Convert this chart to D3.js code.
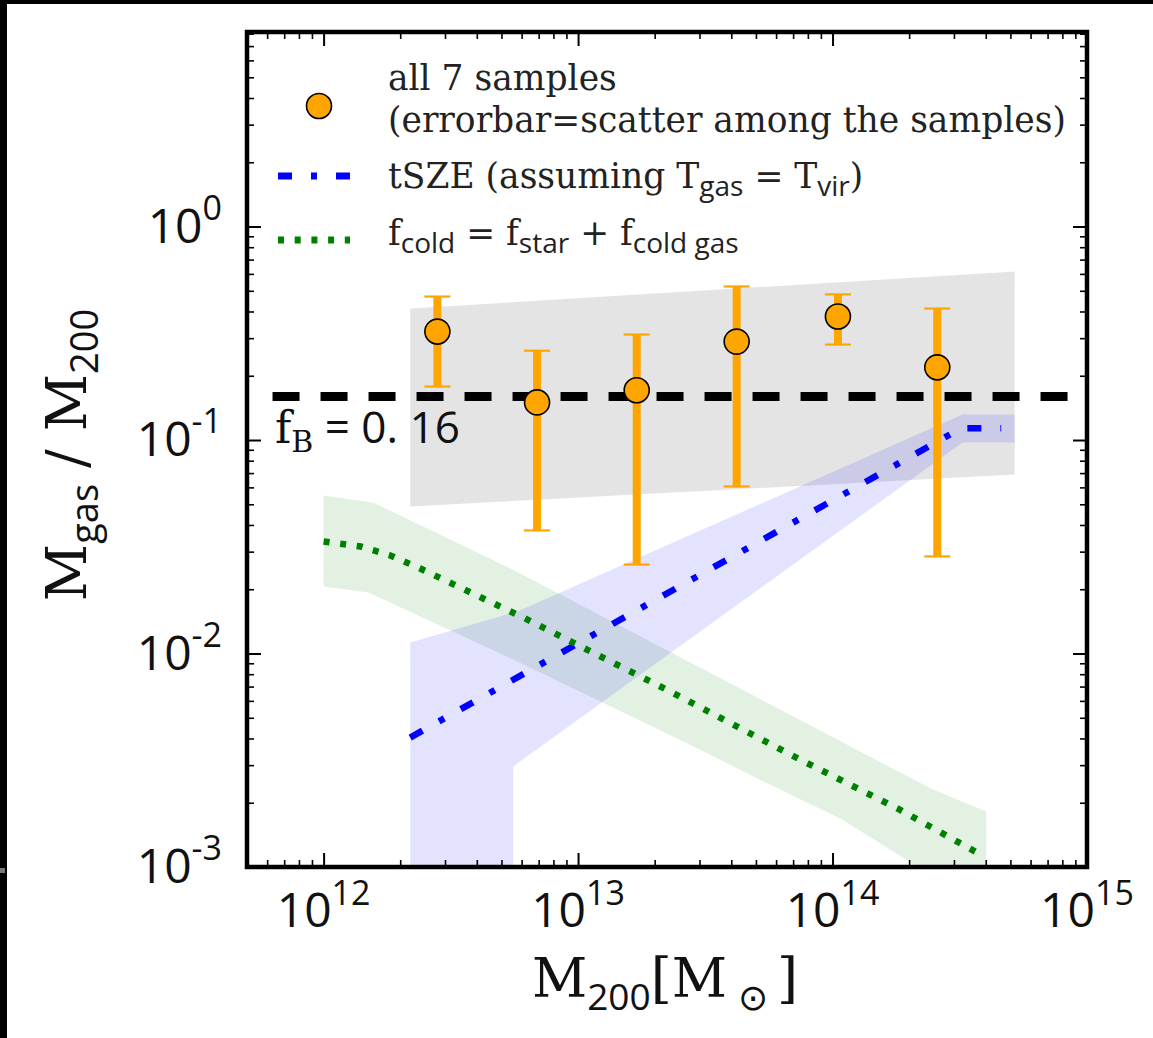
<!DOCTYPE html>
<html>
<head>
<meta charset="utf-8">
<script src="https://cdn.jsdelivr.net/npm/d3@7"></script>
<style>
  body { margin: 0; background: #fff; }
  svg { display: block; }
</style>
</head>
<body>
<svg id="chart"></svg>
<script>
// orange samples: mass, gas fraction and scatter range
const sampleMass = [2.8e12, 6.9e12, 1.70e13, 4.2e13, 1.05e14, 2.58e14];
const sampleFrac = [0.322, 0.150, 0.171, 0.289, 0.379, 0.219];
const sampleHi = [0.47, 0.262, 0.312, 0.524, 0.481, 0.413];
const sampleLo = [0.178, 0.0377, 0.0261, 0.0606, 0.280, 0.0285];

// grey scatter band
const scatterMass = [2.19e12, 5.2e14];
const scatterHi = [0.413, 0.616];
const scatterLo = [0.0488, 0.0689];

// tSZE line and band
const tszMass = [2.19e12, 3.2e14, 4.6e14];
const tszFrac = [0.00404, 0.1135, 0.1135];
const tszHiMass = [2.19e12, 5.77e12, 3.24e14, 5.2e14];
const tszHi = [0.01126, 0.01573, 0.1317, 0.1317];
const tszLoMass = [2.19e12, 5.56e12, 5.56e12, 3.24e14, 5.2e14];
const tszLo = [1e-4, 1e-4, 0.00296, 0.0973, 0.0973];

// f_cold line and band
const coldMass = [1e12, 1.40e12, 1.83e12, 2.40e12, 6.08e12, 2.30e13, 7.43e13, 1.83e14, 3.94e14];
const coldFrac = [0.0335, 0.0317, 0.0288, 0.0250, 0.01475, 0.00664, 0.00319, 0.00186, 0.00112];
const coldHiMass = [1e12, 1.57e12, 5.56e12, 2.47e14, 4.02e14];
const coldHi = [0.0550, 0.0509, 0.0247, 0.00231, 0.00182];
const coldLoMass = [1e12, 1.50e12, 5.56e12, 3.01e13, 5.17e13, 1.09e14, 1.95e14, 4.02e14];
const coldLo = [0.0206, 0.0193, 0.00937, 0.00355, 0.00257, 0.00167, 0.00108, 0.00063];

const fBaryon = 0.16;
const fBaryonMass = [6.3e11, 1e15];

const xMajor = [1e12, 1e13, 1e14, 1e15];
const yMajor = [1e-3, 1e-2, 1e-1, 1e0];

const W = 1153, H = 1038;
const m = {left: 247, top: 32, right: 1087, bottom: 867};
const serif = "'DejaVu Serif', serif";
const sans = "'Open Sans', 'Noto Sans', sans-serif";

const svg = d3.select("#chart").attr("width", W).attr("height", H);
svg.append("rect").attr("width", W).attr("height", H).attr("fill", "#fff");
// dark strips at the image edge
svg.append("rect").attr("x", 0).attr("y", 0).attr("width", W).attr("height", 4).attr("fill", "#000");
svg.append("rect").attr("x", 0).attr("y", 0).attr("width", 7).attr("height", H).attr("fill", "#000");
svg.append("rect").attr("x", 0).attr("y", 868).attr("width", 5).attr("height", 5).attr("fill", "#777");

const x = d3.scaleLog().domain([5e11, 1e15]).range([m.left, m.right]);
const y = d3.scaleLog().domain([1e-3, 8.15]).range([m.bottom, m.top]);

svg.append("clipPath").attr("id", "clip")
  .append("rect").attr("x", m.left).attr("y", m.top)
  .attr("width", m.right - m.left).attr("height", m.bottom - m.top);

const plot = svg.append("g").attr("clip-path", "url(#clip)");

const zip = (xs, ys) => xs.map((v, i) => [v, ys[i]]);
const line = d3.line().x(d => x(d[0])).y(d => y(d[1]));
const band = (xHi, yHi, xLo, yLo) =>
  line(zip(xHi, yHi).concat(zip(xLo, yLo).reverse())) + "Z";

// bands
plot.append("path").attr("d", band(scatterMass, scatterHi, scatterMass, scatterLo))
  .attr("fill", "#000").attr("fill-opacity", 0.105);
plot.append("path").attr("d", band(coldHiMass, coldHi, coldLoMass, coldLo))
  .attr("fill", "#008000").attr("fill-opacity", 0.11);
plot.append("path").attr("d", band(tszHiMass, tszHi, tszLoMass, tszLo))
  .attr("fill", "#0000ff").attr("fill-opacity", 0.11);

// error bars
const samples = sampleMass.map((v, i) => ({m: v, f: sampleFrac[i], hi: sampleHi[i], lo: sampleLo[i]}));
const bars = plot.append("g");
bars.selectAll("line.bar").data(samples).enter().append("line")
  .attr("x1", d => x(d.m)).attr("x2", d => x(d.m))
  .attr("y1", d => y(d.lo)).attr("y2", d => y(d.hi))
  .attr("stroke", "#ffa500").attr("stroke-width", 8);
["hi", "lo"].forEach(k => {
  bars.selectAll("line.cap" + k).data(samples).enter().append("line")
    .attr("x1", d => x(d.m) - 13).attr("x2", d => x(d.m) + 13)
    .attr("y1", d => y(d[k])).attr("y2", d => y(d[k]))
    .attr("stroke", "#ffa500").attr("stroke-width", 2.2);
});

// baryon fraction
plot.append("path").attr("d", line(fBaryonMass.map(v => [v, fBaryon])))
  .attr("stroke", "#000").attr("stroke-width", 9).attr("fill", "none")
  .attr("stroke-dasharray", "27 21");

// model lines
plot.append("path").attr("d", line(zip(tszMass, tszFrac)))
  .attr("stroke", "#0000ff").attr("stroke-width", 6.5).attr("fill", "none")
  .attr("stroke-dasharray", "14 19 6 19");
plot.append("path").attr("d", line(zip(coldMass, coldFrac)))
  .attr("stroke", "#008000").attr("stroke-width", 6.5).attr("fill", "none")
  .attr("stroke-dasharray", "6 10.7");

// markers
plot.append("g").selectAll("circle").data(samples).enter().append("circle")
  .attr("cx", d => x(d.m)).attr("cy", d => y(d.f)).attr("r", 12.5)
  .attr("fill", "#ffa500").attr("stroke", "#000").attr("stroke-width", 1.6);

// ticks on all four sides, pointing inward
const xMinor = x.ticks().filter(v => !xMajor.includes(v));
const yMinor = y.ticks().filter(v => !yMajor.some(t => Math.abs(t - v) / t < 1e-9));
function ticks(axisFn, scale, values, len, sw, tx, ty) {
  const g = svg.append("g").attr("transform", `translate(${tx},${ty})`)
    .call(axisFn(scale).tickValues(values).tickSizeInner(-len).tickSizeOuter(0).tickFormat(""));
  g.select(".domain").remove();
  g.selectAll(".tick line").attr("stroke", "#000").attr("stroke-width", sw);
}
ticks(d3.axisBottom, x, xMajor, 14, 2, 0, m.bottom);
ticks(d3.axisBottom, x, xMinor, 7, 1.6, 0, m.bottom);
ticks(d3.axisTop, x, xMajor, 14, 2, 0, m.top);
ticks(d3.axisTop, x, xMinor, 7, 1.6, 0, m.top);
ticks(d3.axisLeft, y, yMajor, 14, 2, m.left, 0);
ticks(d3.axisLeft, y, yMinor, 7, 1.6, m.left, 0);
ticks(d3.axisRight, y, yMajor, 14, 2, m.right, 0);
ticks(d3.axisRight, y, yMinor, 7, 1.6, m.right, 0);

// frame
svg.append("rect").attr("x", m.left).attr("y", m.top)
  .attr("width", m.right - m.left).attr("height", m.bottom - m.top)
  .attr("fill", "none").attr("stroke", "#000").attr("stroke-width", 4.5);

// tick labels
xMajor.forEach(v => {
  const t = svg.append("text").attr("x", x(v)).attr("y", m.bottom + 60)
    .attr("text-anchor", "middle").attr("font-family", sans).attr("font-size", 48).attr("fill", "#111");
  t.append("tspan").text("10");
  t.append("tspan").attr("dy", -22).attr("font-size", 34).text(Math.round(Math.log10(v)));
});
yMajor.forEach(v => {
  const t = svg.append("text").attr("x", m.left - 25).attr("y", y(v) + 16)
    .attr("text-anchor", "end").attr("font-family", sans).attr("font-size", 48).attr("fill", "#111");
  t.append("tspan").text("10");
  t.append("tspan").attr("dy", -23).attr("font-size", 34).text(String(Math.round(Math.log10(v))));
});

// axis labels
const xl = svg.append("text").attr("x", 665).attr("y", 997).attr("text-anchor", "middle")
  .attr("font-family", serif).attr("font-size", 54).attr("fill", "#111");
xl.append("tspan").text("M");
xl.append("tspan").attr("font-family", sans).attr("font-size", 37).attr("dy", 13).text("200");
xl.append("tspan").attr("dy", -13).text("[M");
xl.append("tspan").attr("font-family", sans).attr("font-size", 36).attr("dy", 13).attr("dx", 11).text("\u2299");
xl.append("tspan").attr("dy", -13).attr("dx", 9).text("]");

const yl = svg.append("text").attr("transform", "translate(86,455) rotate(-90)")
  .attr("text-anchor", "middle").attr("font-family", serif).attr("font-size", 56).attr("fill", "#111");
yl.append("tspan").text("M");
yl.append("tspan").attr("font-family", sans).attr("font-size", 38).attr("dy", 12).text("gas");
yl.append("tspan").attr("dy", -12).attr("dx", 16).text("/ M");
yl.append("tspan").attr("font-family", sans).attr("font-size", 38).attr("dy", 12).text("200");

// f_B label
const fb = svg.append("text").attr("x", 275).attr("y", 443)
  .attr("font-family", sans).attr("font-size", 44).attr("fill", "#111");
fb.append("tspan").attr("font-family", serif).text("f");
fb.append("tspan").attr("font-family", serif).attr("font-size", 30).attr("dy", 9).text("B");
fb.append("tspan").attr("dy", -9).text(" = 0. 16");

// legend
const lx = 388, fs = 34.5, sub = 28;
svg.append("circle").attr("cx", 319).attr("cy", 106).attr("r", 12.5)
  .attr("fill", "#ffa500").attr("stroke", "#000").attr("stroke-width", 1.6);
svg.append("line").attr("x1", 278).attr("x2", 350).attr("y1", 176).attr("y2", 176)
  .attr("stroke", "#0000ff").attr("stroke-width", 7).attr("stroke-dasharray", "14 19 6 19");
svg.append("line").attr("x1", 278).attr("x2", 350).attr("y1", 240).attr("y2", 240)
  .attr("stroke", "#008000").attr("stroke-width", 7).attr("stroke-dasharray", "6 10.7");

const legendText = (yy) => svg.append("text").attr("x", lx).attr("y", yy)
  .attr("font-family", serif).attr("font-size", fs).attr("fill", "#222");
legendText(90).text("all 7 samples");
legendText(132).text("(errorbar=scatter among the samples)");
const l3 = legendText(188);
l3.append("tspan").text("tSZE (assuming T");
l3.append("tspan").attr("font-family", sans).attr("font-size", sub).attr("dy", 8).text("gas");
l3.append("tspan").attr("dy", -8).text(" = T");
l3.append("tspan").attr("font-family", sans).attr("font-size", sub).attr("dy", 8).text("vir");
l3.append("tspan").attr("dy", -8).text(")");
const l4 = legendText(245);
l4.append("tspan").text("f");
l4.append("tspan").attr("font-family", sans).attr("font-size", sub).attr("dy", 8).text("cold");
l4.append("tspan").attr("dy", -8).text(" = f");
l4.append("tspan").attr("font-family", sans).attr("font-size", sub).attr("dy", 8).text("star");
l4.append("tspan").attr("dy", -8).text(" + f");
l4.append("tspan").attr("font-family", sans).attr("font-size", sub).attr("dy", 8).text("cold gas");
</script>
</body>
</html>
